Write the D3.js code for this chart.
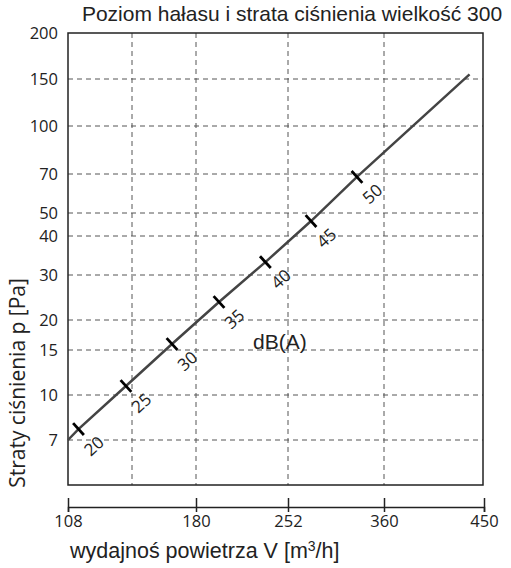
<!DOCTYPE html>
<html>
<head>
<meta charset="utf-8">
<script src="https://cdn.jsdelivr.net/npm/d3@7"></script>
<style>
  body { margin: 0; background: #fff; }
  svg { display: block; }
  .num { font-family: "Open Sans", "Noto Sans", sans-serif; fill: #222; }
  .arial { font-family: "Liberation Sans", Arial, sans-serif; fill: #222; }
</style>
</head>
<body>
<div id="chart"></div>
<script>
// axis values
var flowTicks = [108, 180, 252, 360, 450];
var flowGrid = [144, 180, 252, 360];
var pressureTicks = [200, 150, 100, 70, 50, 40, 30, 20, 15, 10, 7];
var pressureGrid = [150, 100, 70, 50, 40, 30, 20, 15, 10, 7];

// pressure loss curve
var curveFlow = [108, 113.9, 140.6, 166.5, 198, 234.3, 277.9, 329.6, 437];
var curvePressure = [7, 7.73, 11.0, 16.0, 24.0, 33.3, 46.5, 68.5, 155];

// noise level marks on the curve
var markDb = [20, 25, 30, 35, 40, 45, 50];
var markFlow = [113.9, 140.6, 166.5, 198, 234.3, 277.9, 329.6];
var markPressure = [7.73, 11.0, 16.0, 24.0, 33.3, 46.5, 68.5];

var W = 511, H = 568;
var box = {left: 68, right: 483, top: 33, bottom: 485};

// the original chart has uneven spacing on both axes, so piecewise scales
var x = d3.scaleLinear()
    .domain([108, 144, 180, 252, 360, 450])
    .range([68, 132, 196, 288, 384, 484]);

var y = d3.scaleLinear()
    .domain([200, 150, 100, 70, 50, 40, 30, 20, 15, 10, 7, 5])
    .range([33, 79, 126, 174, 213, 236, 275, 320, 350, 395, 440, 485]);

var svg = d3.select("#chart").append("svg")
    .attr("width", W)
    .attr("height", H);

// title
svg.append("text")
    .attr("class", "arial")
    .attr("x", 292)
    .attr("y", 21)
    .attr("text-anchor", "middle")
    .attr("font-size", 21)
    .text("Poziom hałasu i strata ciśnienia wielkość 300");

// grid
var grid = svg.append("g")
    .attr("stroke", "#555")
    .attr("stroke-width", 1)
    .attr("stroke-dasharray", "5,4");

grid.selectAll(".hgrid")
    .data(pressureGrid)
    .enter().append("line")
    .attr("x1", box.left).attr("x2", box.right)
    .attr("y1", function(d) { return y(d); })
    .attr("y2", function(d) { return y(d); });

grid.selectAll(".vgrid")
    .data(flowGrid)
    .enter().append("line")
    .attr("y1", box.top).attr("y2", box.bottom)
    .attr("x1", function(d) { return x(d); })
    .attr("x2", function(d) { return x(d); });

// frame
svg.append("rect")
    .attr("x", box.left).attr("y", box.top)
    .attr("width", box.right - box.left)
    .attr("height", box.bottom - box.top)
    .attr("fill", "none")
    .attr("stroke", "#222")
    .attr("stroke-width", 1.5);

// y axis labels
var yAxis = svg.append("g")
    .attr("transform", "translate(" + box.left + ",0)")
    .call(d3.axisLeft(y).tickValues(pressureTicks).tickSize(0).tickPadding(10));
yAxis.select(".domain").remove();
yAxis.selectAll("text")
    .attr("class", "num")
    .attr("font-size", 16.5)
    .attr("fill", "#222");

// lower x axis
var xAxis = svg.append("g")
    .attr("transform", "translate(0,507)")
    .call(d3.axisBottom(x).tickValues(flowTicks).tickSizeOuter(0).tickSize(5));
xAxis.select(".domain").attr("stroke", "#222").attr("stroke-width", 1.5);
xAxis.selectAll(".tick line")
    .attr("y1", -9).attr("y2", 5)
    .attr("stroke", "#222").attr("stroke-width", 1.5);
xAxis.selectAll("text")
    .attr("class", "num")
    .attr("font-size", 16.5)
    .attr("fill", "#222")
    .attr("y", 20)
    .attr("dy", 0);

// axis titles
svg.append("text")
    .attr("class", "num")
    .attr("font-size", 21)
    .attr("text-anchor", "middle")
    .attr("transform", "translate(25,383) rotate(-90)")
    .text("Straty ciśnienia p [Pa]");

var xt = svg.append("text")
    .attr("class", "arial")
    .attr("font-size", 21.5)
    .attr("x", 70)
    .attr("y", 558);
xt.append("tspan").text("wydajnoś powietrza V [m");
xt.append("tspan").attr("font-size", 14).attr("dy", -7).text("3");
xt.append("tspan").attr("dy", 7).text("/h]");

// curve
var points = curveFlow.map(function(d, i) { return [d, curvePressure[i]]; });
var line = d3.line()
    .x(function(d) { return x(d[0]); })
    .y(function(d) { return y(d[1]); });

svg.append("path")
    .datum(points)
    .attr("d", line)
    .attr("fill", "none")
    .attr("stroke", "#444")
    .attr("stroke-width", 2.5);

// direction of the curve in screen space, for the cross ticks
var p0 = points[0], p1 = points[points.length - 1];
var dx = x(p1[0]) - x(p0[0]), dy = y(p1[1]) - y(p0[1]);
var len = Math.sqrt(dx * dx + dy * dy);
var ux = dx / len, uy = dy / len;      // along the line
var nx = -uy, ny = ux;                  // perpendicular, pointing down-right
var angle = Math.atan2(dy, dx) * 180 / Math.PI;

var marks = svg.append("g");
markDb.forEach(function(db, i) {
    var cx = x(markFlow[i]), cy = y(markPressure[i]);
    marks.append("line")
        .attr("x1", cx - nx * 8).attr("y1", cy - ny * 8)
        .attr("x2", cx + nx * 8).attr("y2", cy + ny * 8)
        .attr("stroke", "#000")
        .attr("stroke-width", 2.8);
    var lx = cx + nx * 23, ly = cy + ny * 23;
    marks.append("text")
        .attr("class", "num")
        .attr("font-size", 17)
        .attr("fill", "#222")
        .attr("text-anchor", "middle")
        .attr("dy", "0.35em")
        .attr("transform", "translate(" + lx + "," + ly + ") rotate(" + angle + ")")
        .text(db);
});

svg.append("text")
    .attr("class", "arial")
    .attr("font-size", 21)
    .attr("x", 253)
    .attr("y", 349)
    .text("dB(A)");
</script>
</body>
</html>
